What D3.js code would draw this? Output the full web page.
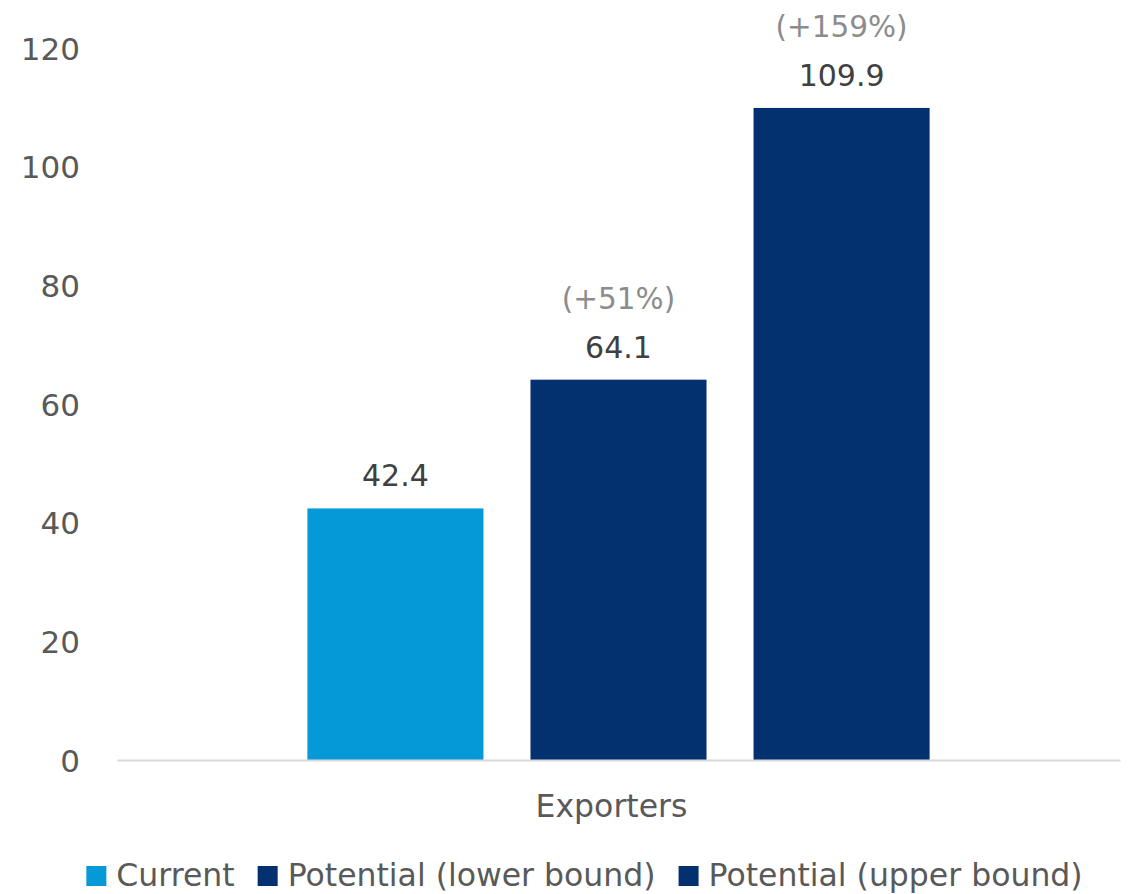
<!DOCTYPE html>
<html>
<head>
<meta charset="utf-8">
<script src="https://cdn.jsdelivr.net/npm/d3@7"></script>
<style>
  html, body { margin: 0; padding: 0; background: #ffffff; }
  svg { display: block; }
  text { font-family: "DejaVu Sans", "Open Sans", sans-serif; }
</style>
</head>
<body>
<svg id="chart" width="1128" height="894"></svg>
<script>
// ---- data ----
const categories = ["Exporters"];
const seriesNames = ["Current", "Potential (lower bound)", "Potential (upper bound)"];
const seriesValues = [42.4, 64.1, 109.9];
const changeLabels = ["", "(+51%)", "(+159%)"];
const seriesColors = ["#0599d8", "#03306f", "#03306f"];
const yTicks = [0, 20, 40, 60, 80, 100, 120];

// ---- layout ----
const plot = { left: 117, right: 1120, top: 48, bottom: 760 };
const svg = d3.select("#chart");
const FONT = "'DejaVu Sans', 'Open Sans', sans-serif";

const y = d3.scaleLinear().domain([0, 120]).range([plot.bottom, plot.top]);
const x0 = d3.scaleBand().domain(categories).range([plot.left, plot.right])
  .paddingInner(0).paddingOuter(0.306);
const x1 = d3.scaleBand().domain(seriesNames).range([0, x0.bandwidth()])
  .paddingInner(0.2108).paddingOuter(0);

// y-axis labels (no line, no ticks)
const yAxis = d3.axisLeft(y).tickValues(yTicks).tickSize(0).tickPadding(0);
const yg = svg.append("g").attr("transform", `translate(80,0)`).call(yAxis);
yg.select(".domain").remove();
yg.selectAll("text").attr("fill", "#595959").style("font-size", "31px")
  .style("font-family", FONT).attr("dy", "0.36em");

// bars
const rows = seriesNames.map((s, i) => ({ cat: categories[0], s, v: seriesValues[i], c: seriesColors[i], pct: changeLabels[i] }));
const g = svg.append("g");
g.selectAll("rect").data(rows).join("rect")
  .attr("x", d => x0(d.cat) + x1(d.s))
  .attr("y", d => y(d.v))
  .attr("width", x1.bandwidth())
  .attr("height", d => y(0) - y(d.v))
  .attr("fill", d => d.c);

// x-axis baseline
const xAxis = d3.axisBottom(x0).tickSize(0).tickPadding(0);
const xg = svg.append("g").attr("transform", `translate(0,${plot.bottom})`).call(xAxis);
xg.select(".domain").attr("stroke", "#d9d9d9").attr("stroke-width", 2);
xg.selectAll("text").attr("fill", "#595959").style("font-size", "31.5px")
  .style("font-family", FONT)
  .attr("dy", null).attr("y", 57).attr("x", -7);

// value labels
g.selectAll("text.val").data(rows).join("text").attr("class", "val")
  .attr("x", d => x0(d.cat) + x1(d.s) + x1.bandwidth() / 2)
  .attr("y", d => y(d.v) - 22)
  .attr("text-anchor", "middle")
  .attr("fill", "#404040").style("font-size", "30px")
  .text(d => d.v.toFixed(1));

g.selectAll("text.pct").data(rows.filter(d => d.pct)).join("text").attr("class", "pct")
  .attr("x", d => x0(d.cat) + x1(d.s) + x1.bandwidth() / 2)
  .attr("y", d => y(d.v) - 71)
  .attr("text-anchor", "middle")
  .attr("fill", "#8c8c8c").style("font-size", "29.5px")
  .text(d => d.pct);

// legend
const lg = svg.append("g");
const items = lg.selectAll("g").data(rows).join("g");
items.append("rect").attr("width", 20).attr("height", 20).attr("y", -20).attr("fill", d => d.c);
items.append("text").attr("x", 30).attr("y", 0).attr("fill", "#595959")
  .style("font-size", "31.5px").text(d => d.s);
let cx = 0;
items.each(function () {
  d3.select(this).attr("transform", `translate(${cx},886)`);
  cx += 30 + this.querySelector("text").getComputedTextLength() + 23;
});
const total = cx - 23;
lg.attr("transform", `translate(${584.5 - total / 2},0)`);
</script>
</body>
</html>
